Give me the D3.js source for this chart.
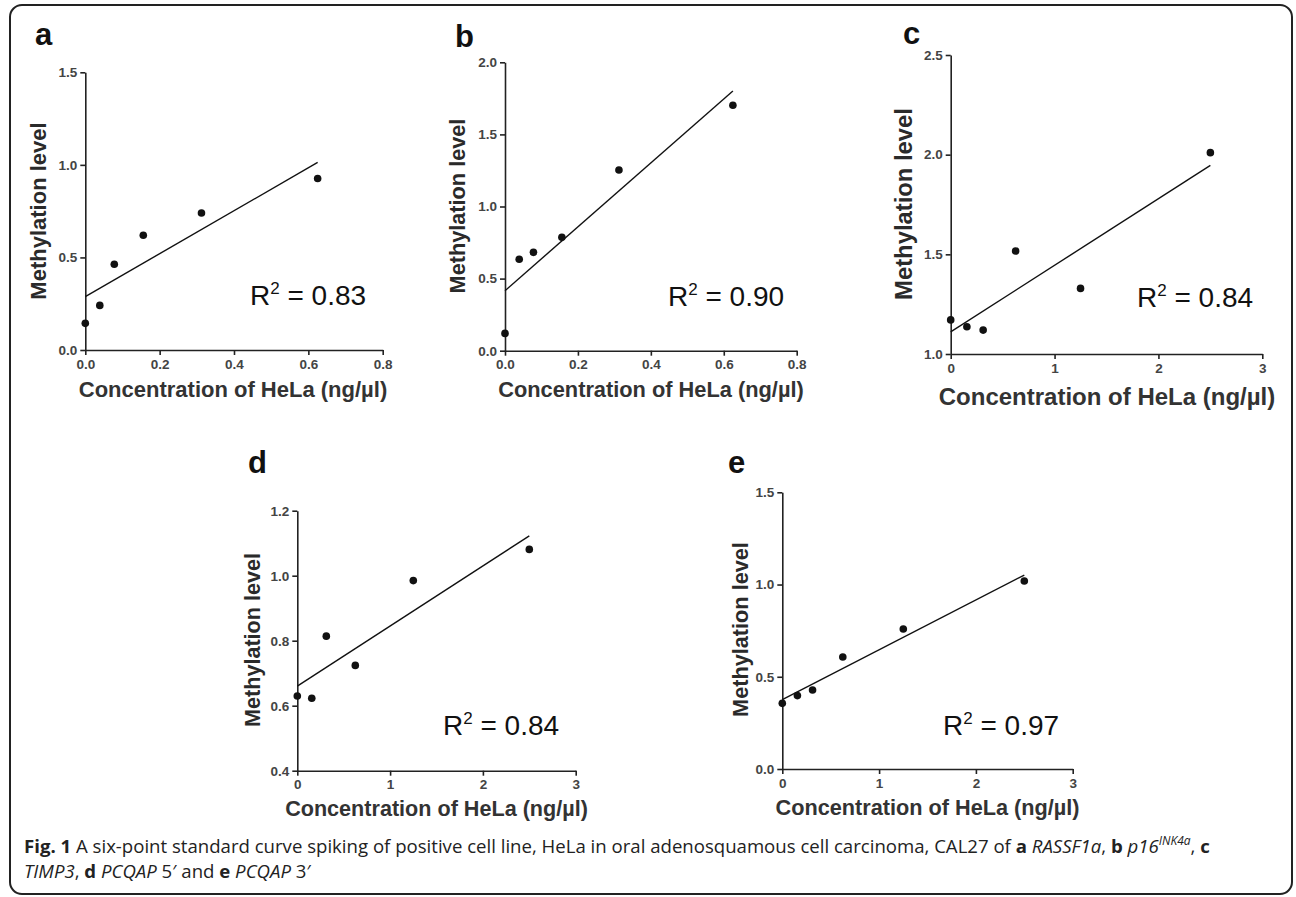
<!DOCTYPE html>
<html lang="en">
<head>
    <meta charset="UTF-8">
    <title>Fig. 1 Standard curves, HeLa spiking</title>
    <script src="https://d3js.org/d3.v7.min.js"></script>
    <style>
        body {
            margin: 0;
            background: #fff;
        }
        svg text {
            font-family: "Liberation Sans", Arial, sans-serif;
        }
        .tick text {
            font-size: 13.5px;
            font-weight: bold;
            fill: #444;
        }
        .axis path, .axis line {
            stroke: #222;
            stroke-width: 1.6;
        }
        .fit {
            fill: none;
            stroke: #111;
            stroke-width: 1.4;
        }
        .caption {
            font-family: "Open Sans", sans-serif !important;
            font-size: 18.6px;
            fill: #222;
        }
    </style>
</head>
<body>
<svg width="1296" height="897"></svg>

<script>
    // concentrations of HeLa (ng/µl)
    const concAB = [0, 0.039, 0.078, 0.156, 0.3125, 0.625];
    const concCDE = [0, 0.156, 0.3125, 0.625, 1.25, 2.5];

    // methylation level
    const methA = [0.144, 0.241, 0.463, 0.62, 0.74, 0.926];
    const methB = [0.12, 0.634, 0.682, 0.786, 1.253, 1.702];
    const methC = [1.171, 1.137, 1.12, 1.517, 1.329, 2.01];
    const methD = [0.63, 0.623, 0.814, 0.724, 0.985, 1.081];
    const methE = [0.356, 0.398, 0.428, 0.607, 0.759, 1.019];

    const r2Values = ["0.83", "0.90", "0.84", "0.84", "0.97"];
    const panelLetters = ["a", "b", "c", "d", "e"];

    // tick values
    const xTicksAB = [0, 0.2, 0.4, 0.6, 0.8];
    const xTicksCDE = [0, 1, 2, 3];
    const yTicksA = [0, 0.5, 1.0, 1.5];
    const yTicksB = [0, 0.5, 1.0, 1.5, 2.0];
    const yTicksC = [1.0, 1.5, 2.0, 2.5];
    const yTicksD = [0.4, 0.6, 0.8, 1.0, 1.2];
    const yTicksE = [0, 0.5, 1.0, 1.5];

    const xTitle = "Concentration of HeLa (ng/\u00b5l)";
    const yTitle = "Methylation level";

    const panels = [
        { conc: concAB, meth: methA, xTicks: xTicksAB, yTicks: yTicksA, xFmt: ".1f" },
        { conc: concAB, meth: methB, xTicks: xTicksAB, yTicks: yTicksB, xFmt: ".1f" },
        { conc: concCDE, meth: methC, xTicks: xTicksCDE, yTicks: yTicksC, xFmt: "d" },
        { conc: concCDE, meth: methD, xTicks: xTicksCDE, yTicks: yTicksD, xFmt: "d" },
        { conc: concCDE, meth: methE, xTicks: xTicksCDE, yTicks: yTicksE, xFmt: "d" }
    ];

    // pixel layout of each panel (plot box, titles, labels)
    const layout = [
        { x0: 85.3, x1: 382.7, yb: 350, yt: 72.3, fs: 22, yfs: 22, xtx: 233, xty: 397, ytx: 38, yty: 211,
          lx: 35, ly: 45, rx: 250, ry: 305 },
        { x0: 505, x1: 796.7, yb: 350.7, yt: 62.3, fs: 21.8, yfs: 21.7, xtx: 651, xty: 397, ytx: 457, yty: 206,
          lx: 455, ly: 46.5, rx: 668, ry: 306 },
        { x0: 950.7, x1: 1262.3, yb: 354, yt: 55, fs: 24, yfs: 23.8, xtx: 1107, xty: 405, ytx: 903, yty: 204,
          lx: 903, ly: 43.5, rx: 1137, ry: 307 },
        { x0: 297.3, x1: 575.7, yb: 770.7, yt: 510.7, fs: 21.6, yfs: 21.6, xtx: 436.5, xty: 816, ytx: 252, yty: 640,
          lx: 248, ly: 473, rx: 443, ry: 735 },
        { x0: 782.3, x1: 1072.7, yb: 769, yt: 492.3, fs: 21.7, yfs: 21.7, xtx: 927.5, xty: 815, ytx: 740, yty: 629.5,
          lx: 728, ly: 473, rx: 943, ry: 735 }
    ];

    const svg = d3.select("svg");

    svg.append("rect")
        .attr("x", 10).attr("y", 5)
        .attr("width", 1282).attr("height", 889)
        .attr("rx", 12)
        .attr("fill", "none")
        .attr("stroke", "#222")
        .attr("stroke-width", 2);

    // least squares fit
    function fit(xs, ys) {
        const mx = d3.mean(xs), my = d3.mean(ys);
        let sxy = 0, sxx = 0;
        xs.forEach((x, i) => { sxy += (x - mx) * (ys[i] - my); sxx += (x - mx) * (x - mx); });
        const slope = sxy / sxx;
        return { slope, intercept: my - slope * mx };
    }

    panels.forEach((p, i) => {
        const L = layout[i];
        const g = svg.append("g");

        const x = d3.scaleLinear()
            .domain(d3.extent(p.xTicks))
            .range([L.x0, L.x1]);
        const y = d3.scaleLinear()
            .domain(d3.extent(p.yTicks))
            .range([L.yb, L.yt]);

        g.append("g")
            .attr("class", "axis")
            .attr("transform", `translate(0,${L.yb})`)
            .call(d3.axisBottom(x).tickValues(p.xTicks).tickFormat(d3.format(p.xFmt))
                .tickSize(5).tickSizeOuter(0).tickPadding(4));

        g.append("g")
            .attr("class", "axis")
            .attr("transform", `translate(${L.x0},0)`)
            .call(d3.axisLeft(y).tickValues(p.yTicks).tickFormat(d3.format(".1f"))
                .tickSize(5).tickSizeOuter(0).tickPadding(3));

        // regression line
        const f = fit(p.conc, p.meth);
        const xMax = d3.max(p.conc);
        g.append("path")
            .attr("class", "fit")
            .datum([0, xMax])
            .attr("d", d3.line().x(d => x(d)).y(d => y(f.intercept + f.slope * d)));

        g.selectAll("circle")
            .data(p.conc.map((c, j) => ({ c, m: p.meth[j] })))
            .enter().append("circle")
            .attr("cx", d => x(d.c))
            .attr("cy", d => y(d.m))
            .attr("r", 3.8)
            .attr("fill", "#111");

        g.append("text")
            .attr("x", L.xtx).attr("y", L.xty)
            .attr("text-anchor", "middle")
            .attr("font-size", L.fs)
            .attr("font-weight", "bold")
            .attr("fill", "#333")
            .text(xTitle);

        g.append("text")
            .attr("transform", `translate(${L.ytx},${L.yty}) rotate(-90)`)
            .attr("text-anchor", "middle")
            .attr("dy", "0.36em")
            .attr("font-size", L.yfs)
            .attr("font-weight", "bold")
            .attr("fill", "#2a2a2a")
            .text(yTitle);

        g.append("text")
            .attr("x", L.lx).attr("y", L.ly)
            .attr("font-size", 31)
            .attr("font-weight", "bold")
            .attr("fill", "#111")
            .text(panelLetters[i]);

        const r2 = g.append("text")
            .attr("x", L.rx).attr("y", L.ry)
            .attr("font-size", 28)
            .attr("fill", "#111");
        r2.append("tspan").text("R");
        r2.append("tspan").attr("font-size", 17).attr("dy", -11).text("2");
        r2.append("tspan").attr("dy", 11).text(" = " + r2Values[i]);
    });

    // caption
    const captionLines = [
        [
            { t: "Fig. 1", w: "bold" }, { t: " A six-point standard curve spiking of positive cell line, HeLa in oral adenosquamous cell carcinoma, CAL27 of " },
            { t: "a", w: "bold" }, { t: " " }, { t: "RASSF1a", s: "italic" }, { t: ", " },
            { t: "b", w: "bold" }, { t: " " }, { t: "p16", s: "italic" }, { t: "INK4a", s: "italic", sup: true }, { t: ", " },
            { t: "c", w: "bold" }
        ],
        [
            { t: "TIMP3", s: "italic" }, { t: ", " }, { t: "d", w: "bold" }, { t: " " }, { t: "PCQAP", s: "italic" },
            { t: " 5\u2032 and " }, { t: "e", w: "bold" }, { t: " " }, { t: "PCQAP", s: "italic" }, { t: " 3\u2032" }
        ]
    ];
    const captionY = [853, 878];

    captionLines.forEach((segs, li) => {
        const t = svg.append("text")
            .attr("class", "caption")
            .attr("x", 24).attr("y", captionY[li])
            .attr("xml:space", "preserve");
        let raised = false;
        segs.forEach(s => {
            const ts = t.append("tspan").text(s.t);
            if (s.w) ts.attr("font-weight", s.w);
            if (s.s) ts.attr("font-style", s.s);
            if (s.sup) { ts.attr("font-size", 12).attr("dy", -8); raised = true; }
            else if (raised) { ts.attr("dy", 8); raised = false; }
        });
    });
</script>
</body>
</html>
